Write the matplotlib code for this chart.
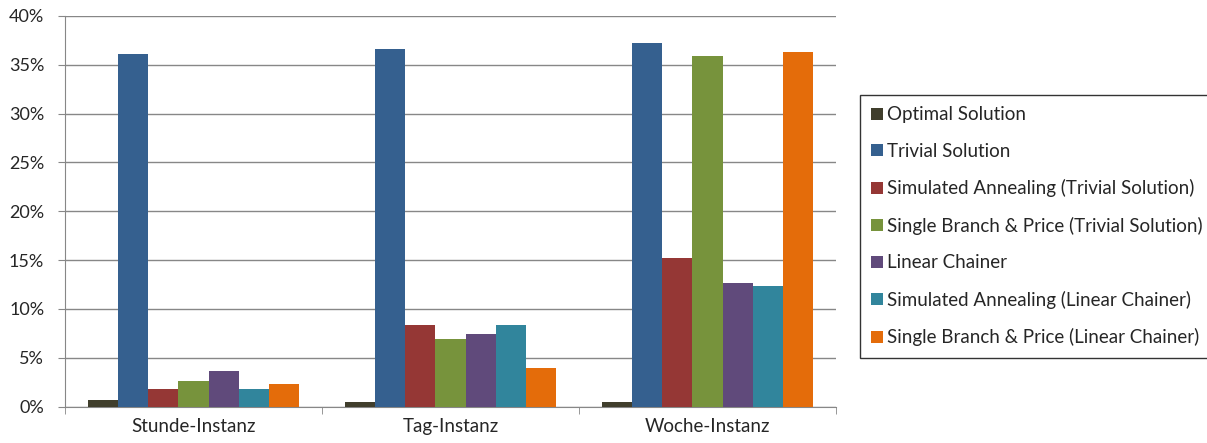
import numpy as np
import matplotlib
matplotlib.use("Agg")
import matplotlib.pyplot as plt
from matplotlib.patches import Patch
from matplotlib.ticker import FuncFormatter

plt.rcParams['font.family'] = ['Lato', 'DejaVu Sans']

# categories and series (values in %)
categories = ["Stunde-Instanz", "Tag-Instanz", "Woche-Instanz"]
series_names = [
    "Optimal Solution",
    "Trivial Solution",
    "Simulated Annealing (Trivial Solution)",
    "Single Branch & Price (Trivial Solution)",
    "Linear Chainer",
    "Simulated Annealing (Linear Chainer)",
    "Single Branch & Price (Linear Chainer)",
]
optimal = [0.7, 0.5, 0.5]
trivial = [36.1, 36.6, 37.2]
sa_trivial = [1.8, 8.3, 15.2]
sbp_trivial = [2.6, 6.9, 35.9]
linear_chainer = [3.6, 7.4, 12.6]
sa_linear = [1.8, 8.3, 12.3]
sbp_linear = [2.3, 3.9, 36.3]

colors = ["#403E2C", "#35608F", "#953735", "#77933C", "#604A7B", "#31859C", "#E46C0A"]

all_series = [optimal, trivial, sa_trivial, sbp_trivial, linear_chainer, sa_linear, sbp_linear]

fs = 13.5
fig = plt.figure(figsize=(12.07, 4.43), dpi=100)
ax = fig.add_axes([65/1207, 1-406.5/443, (836-65)/1207, (406.5-16)/443])

x = np.arange(len(categories))
w = 0.117
for i, (vals, c) in enumerate(zip(all_series, colors)):
    ax.bar(x + (i - 3) * w, vals, width=w, color=c, zorder=3)

ax.set_xlim(-0.5, 2.5)
ax.set_ylim(0, 40)
ax.set_yticks(np.arange(0, 41, 5))
ax.yaxis.set_major_formatter(FuncFormatter(lambda v, p: f"{int(v)}%"))
ax.yaxis.grid(True, color="#878787", linewidth=1.0, zorder=0)

ax.set_xticks(x)
ax.set_xticklabels(categories)
ax.set_xticks([-0.5, 0.5, 1.5, 2.5], minor=True)
ax.tick_params(axis='x', which='major', length=0, pad=8, labelsize=fs, labelcolor='#262626')
ax.tick_params(axis='x', which='minor', length=5, color='#878787', direction='out')
ax.tick_params(axis='y', length=5, color='#878787', labelsize=13, labelcolor='#262626', pad=10)

for s in ['top', 'right']:
    ax.spines[s].set_visible(False)
ax.spines['left'].set_color('#878787')
ax.spines['bottom'].set_color('#878787')

handles = [Patch(facecolor=c, edgecolor='none') for c in colors]
leg = fig.legend(handles, series_names, loc='upper left',
                 bbox_to_anchor=(860/1207, 1-95/443), fontsize=fs,
                 frameon=True, fancybox=False, edgecolor='black',
                 handlelength=0.6, handleheight=0.6, handletextpad=0.25,
                 labelspacing=1.04, borderpad=0.6, borderaxespad=0)
leg.get_frame().set_linewidth(1.0)
for t in leg.get_texts():
    t.set_color('#262626')

fig.savefig("out.png", dpi=100)
